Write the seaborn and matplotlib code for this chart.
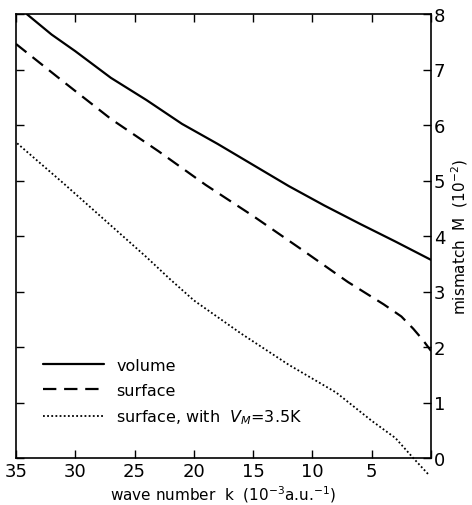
import matplotlib
matplotlib.use("Agg")
import matplotlib.pyplot as plt
import seaborn as sns
import numpy as np
import pandas as pd

# Data
k_volume = [34.1, 32, 30, 27, 24, 21, 18, 15, 12, 9, 6, 3, 0]
m_volume = [8.0, 7.63, 7.33, 6.85, 6.45, 6.02, 5.66, 5.28, 4.9, 4.55, 4.22, 3.9, 3.57]

k_surface = [35, 31, 27, 23, 19, 15, 11, 7, 4, 2.5, 1.5, 0.7, 0]
m_surface = [7.46, 6.78, 6.11, 5.53, 4.92, 4.36, 3.77, 3.17, 2.77, 2.55, 2.33, 2.13, 1.93]

k_vm = [34.9, 31, 28, 24, 22, 20, 16, 12, 8, 5, 3, 1.5, 0.2]
m_vm = [5.67, 4.95, 4.38, 3.62, 3.22, 2.84, 2.24, 1.68, 1.18, 0.67, 0.36, 0.0, -0.3]

x_ticks = [35, 30, 25, 20, 15, 10, 5, 0]
x_labels = ["35", "30", "25", "20", "15", "10", "5", ""]
y_ticks = [0, 1, 2, 3, 4, 5, 6, 7, 8]

sns.set_theme(style="white")
plt.rcParams['font.family'] = ['DejaVu Sans']
plt.rcParams['text.color'] = 'black'
plt.rcParams['axes.labelcolor'] = 'black'

fig = plt.figure(figsize=(4.72, 5.06), dpi=100)
ax = fig.add_axes([16/472, 47/506, (431-16)/472, (459-15)/506])

sns.lineplot(x=k_volume, y=m_volume, ax=ax, color="black", lw=1.6,
             linestyle="-", label="volume", sort=False)
sns.lineplot(x=k_surface, y=m_surface, ax=ax, color="black", lw=1.6,
             label="surface", sort=False)
ax.lines[-1].set_dashes([6, 3.5])
sns.lineplot(x=k_vm, y=m_vm, ax=ax, color="black", lw=1.3,
             label="surface, with  $V_M$=3.5K", sort=False, clip_on=False)
ax.lines[-1].set_linestyle((0, (1, 1.3)))

ax.set_xlim(35, 0)
ax.set_ylim(0, 8)
ax.set_xticks(x_ticks)
ax.set_xticklabels(x_labels)
ax.set_yticks(y_ticks)
ax.set_yticklabels([str(t) for t in y_ticks])

ax.tick_params(axis="x", direction="in", length=6, width=1, top=True, bottom=True,
               labelsize=13, pad=3, colors="black")
ax.tick_params(axis="y", direction="in", length=6, width=1, left=True, right=True,
               labelleft=False, labelright=True, labelsize=13, pad=2, colors="black")
for s in ax.spines.values():
    s.set_color("black")
    s.set_linewidth(1.2)

ax.set_xlabel("wave number  k  ($10^{-3}$a.u.$^{-1}$)", fontsize=11, labelpad=2, color="black")
ax.yaxis.set_label_position("right")
ax.set_ylabel("mismatch  M  ($10^{-2}$)", fontsize=11, labelpad=3, color="black")

leg = ax.legend(loc="lower left", bbox_to_anchor=(0.03, 0.04), frameon=False,
                fontsize=11.5, handlelength=3.8, handletextpad=0.8, labelspacing=0.6,
                labelcolor="black")

ax.grid(False)
fig.savefig("out.png", dpi=100)
